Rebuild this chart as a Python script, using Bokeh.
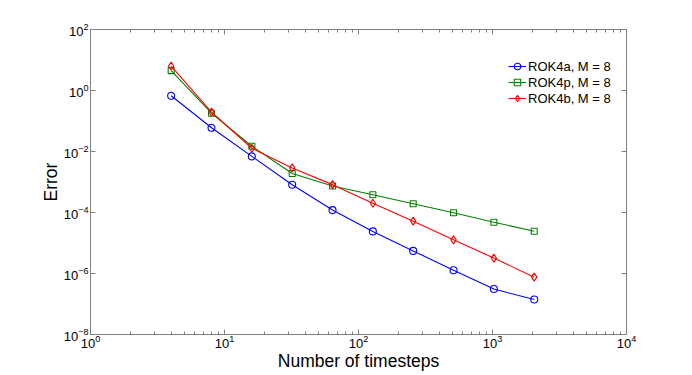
from bokeh.plotting import figure
from bokeh.models import FixedTicker, LogAxis, Legend, LegendItem
from bokeh.embed import file_html
from bokeh.resources import INLINE

steps = [4, 8, 16, 32, 64, 128, 256, 512, 1024, 2048]
err_rok4a = [0.67, 0.06, 0.0069, 8.1e-4, 1.2e-4, 2.4e-5, 5.5e-6, 1.28e-6, 3.1e-7, 1.4e-7]
err_rok4p = [4.5, 0.18, 0.0149, 1.9e-3, 7.4e-4, 3.8e-4, 1.93e-4, 9.8e-5, 4.8e-5, 2.44e-5]
err_rok4b = [6.3, 0.195, 0.0128, 2.9e-3, 8.2e-4, 2.0e-4, 5.2e-5, 1.27e-5, 3.2e-6, 7.6e-7]

x_major = [1, 10, 100, 1000, 10000]
x_minor = [m * d for d in [1, 10, 100, 1000] for m in range(2, 10)]
y_major = [1e-8, 1e-6, 1e-4, 1e-2, 1, 100]

FONT = "Liberation Sans"
AXIS_COLOR = "#808080"

p = figure(frame_width=536, frame_height=305, x_axis_type="log", y_axis_type="log",
           x_range=(1, 1e4), y_range=(1e-8, 1e2),
           output_backend="svg", toolbar_location=None,
           min_border_left=90, min_border_right=50,
           min_border_top=29, min_border_bottom=36)
p.xgrid.visible = False
p.ygrid.visible = False
p.outline_line_color = AXIS_COLOR
p.outline_line_width = 1
p.background_fill_color = "white"
p.border_fill_color = "white"

def style_axis(ax, ticks, minor, show_labels=True):
    ax.ticker = FixedTicker(ticks=ticks, minor_ticks=minor)
    ax.axis_line_color = AXIS_COLOR
    ax.major_tick_line_color = AXIS_COLOR
    ax.minor_tick_line_color = AXIS_COLOR
    ax.major_tick_in = 5
    ax.major_tick_out = 0
    ax.minor_tick_in = 3
    ax.minor_tick_out = 0
    ax.major_label_text_font = FONT
    ax.major_label_text_font_size = "13px"
    ax.major_label_text_color = "black"
    ax.major_label_standoff = 1
    ax.axis_label_text_font = FONT
    ax.axis_label_text_font_size = "17.5px"
    ax.axis_label_text_font_style = "normal"
    ax.axis_label_text_color = "black"
    ax.axis_label_standoff = 0
    if not show_labels:
        ax.major_label_text_font_size = "0px"
        ax.major_label_text_alpha = 0

style_axis(p.xaxis[0], x_major, x_minor)
style_axis(p.yaxis[0], y_major, [])
p.xaxis[0].axis_label = "Number of timesteps"
p.yaxis[0].axis_label = "Error"
p.xaxis[0].major_label_standoff = 0
p.yaxis[0].major_label_standoff = 2

top_ax = LogAxis()
right_ax = LogAxis()
style_axis(top_ax, x_major, x_minor, show_labels=False)
style_axis(right_ax, y_major, [], show_labels=False)
top_ax.major_label_standoff = 0
right_ax.major_label_standoff = 0
p.add_layout(top_ax, "above")
p.add_layout(right_ax, "right")

series = [
    ("ROK4a, M = 8", err_rok4a, "#0000ff", "circle"),
    ("ROK4p, M = 8", err_rok4p, "#008000", "square"),
    ("ROK4b, M = 8", err_rok4b, "#ff0000", "diamond"),
]
items = []
for label, ys, color, marker in series:
    ln = p.line(steps, ys, line_color=color, line_width=1.1)
    sz = 8 if marker == "diamond" else (6 if marker == "square" else 7)
    sc = p.scatter(steps, ys, marker=marker, size=sz, line_color=color,
                   fill_color=None, line_width=1.1)
    items.append(LegendItem(label=label, renderers=[ln, sc]))

legend = Legend(items=items, location=(418, 228))
legend.label_text_font = FONT
legend.label_text_font_size = "13px"
legend.label_text_color = "black"
legend.label_height = 16
legend.glyph_height = 16
legend.glyph_width = 18
legend.label_standoff = 2
legend.spacing = 0
legend.padding = 0
legend.margin = 0
legend.border_line_color = None
legend.background_fill_alpha = 0
p.add_layout(legend, "center")

open("out.html", "w").write(file_html(p, INLINE))
